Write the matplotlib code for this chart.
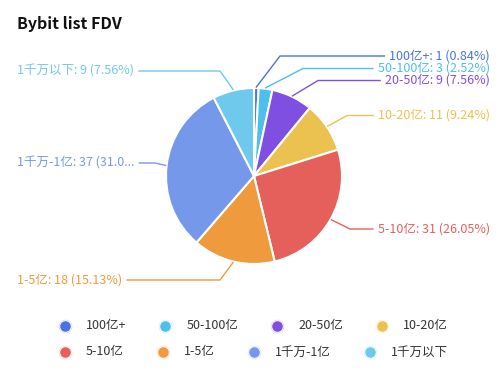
import numpy as np
import matplotlib
matplotlib.use("Agg")
import matplotlib.pyplot as plt

plt.rcParams['font.family'] = ['Noto Sans CJK SC', 'DejaVu Sans']

# ---- data ----
categories = ["100亿+", "50-100亿", "20-50亿", "10-20亿", "5-10亿", "1-5亿", "1千万-1亿", "1千万以下"]
values = [1, 3, 9, 11, 31, 18, 37, 9]
colors = ["#4a72e2", "#4cbfec", "#7f4fe2", "#ebc24f", "#e5605b", "#ef9a3d", "#7598ea", "#6ec9ec"]
title = "Bybit list FDV"

# ---- layout (pixel coordinates, y downward) ----
W, H = 500, 375
cx, cy, R = 254, 176, 88
label_side = ["r", "r", "r", "r", "r", "l", "l", "l"]
label_y = [56, 68.5, 80.5, 115.5, 229, 280, 163, 71]
elbow_x = [280, 303, 318, 347, 350, 220, 155, 220]
right_text_x = 490
left_text_x = 17
fs_label = 9

fig = plt.figure(figsize=(W / 100, H / 100), dpi=100)
ax = fig.add_axes([0, 0, 1, 1])

total = sum(values)
wedges, _ = ax.pie(values, colors=colors, center=(cx, cy), radius=R,
                   startangle=-90, counterclock=True,
                   wedgeprops=dict(edgecolor="white", linewidth=1.5))
ax.set_xlim(0, W)
ax.set_ylim(H, 0)
ax.set_aspect("equal")
ax.axis("off")

fig.canvas.draw()
renderer = fig.canvas.get_renderer()
inv = ax.transData.inverted()

cum = np.cumsum([0] + values)
for i, (cat, v) in enumerate(zip(categories, values)):
    pct = v / total * 100
    txt = f"{cat}: {v} ({pct:.2f}%)"
    if cat == "1千万-1亿":
        txt = txt[:-3] + "..."
    mid = (cum[i] + v / 2) / total * 2 * np.pi
    sx = cx + (R + 1) * np.sin(mid)
    sy = cy - (R + 1) * np.cos(mid)
    ex, ey = elbow_x[i], label_y[i]
    if label_side[i] == "r":
        t = ax.text(right_text_x, label_y[i], txt, ha="right", va="center",
                    fontsize=fs_label, color=colors[i])
        bb = t.get_window_extent(renderer)
        x0 = inv.transform((bb.x0, 0))[0] - 5
        ax.plot([sx, ex, x0], [sy, ey, ey], color=colors[i], lw=1)
    else:
        t = ax.text(left_text_x, label_y[i], txt, ha="left", va="center",
                    fontsize=fs_label, color=colors[i])
        bb = t.get_window_extent(renderer)
        x1 = inv.transform((bb.x1, 0))[0] + 5
        ax.plot([sx, ex, x1], [sy, ey, ey], color=colors[i], lw=1)

ax.text(17, 24, title, ha="left", va="center", fontsize=11.5,
        fontweight="bold", color="#111111")

# ---- legend (flow layout) ----
rows = [categories[:4], categories[4:]]
row_y = [326, 352]
k = 0
for r, row in enumerate(rows):
    x = 65
    for cat in row:
        col = colors[k]
        ax.scatter([x], [row_y[r]], s=95, color=col, alpha=0.25, linewidths=0, zorder=5)
        ax.scatter([x], [row_y[r]], s=75, color="white", linewidths=0, zorder=6)
        ax.scatter([x], [row_y[r]], s=58, color=col, linewidths=0, zorder=7)
        t = ax.text(x + 21, row_y[r], cat, ha="left", va="center",
                    fontsize=9, color="#333333")
        bb = t.get_window_extent(renderer)
        xend = inv.transform((bb.x1, 0))[0]
        x = xend + 39
        k += 1

fig.savefig("out.png", dpi=100, facecolor="white")
